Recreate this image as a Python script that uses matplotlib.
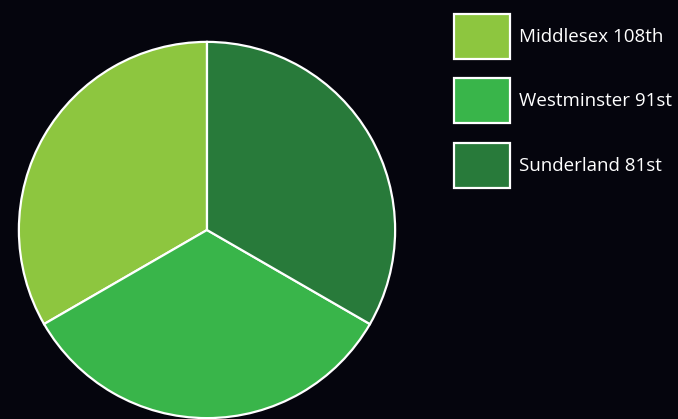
import matplotlib
matplotlib.use('Agg')
from matplotlib import pyplot as plt
from matplotlib.patches import Patch

labels = ['Middlesex 108th', 'Westminster 91st', 'Sunderland 81st']
values = [1, 1, 1]
colors = ['#8dc63f', '#39b54a', '#287a3a']
bg = '#05050d'

plt.rcParams['font.family'] = ['Open Sans', 'DejaVu Sans']

fig = plt.figure(figsize=(6.78, 4.19), dpi=100, facecolor=bg)
ax = fig.add_axes([17 / 678, -1 / 419, 380 / 678, 380 / 419])
ax.set_facecolor(bg)
ax.pie(values, colors=colors, startangle=90, counterclock=True, radius=1,
       wedgeprops={'edgecolor': 'white', 'linewidth': 1.6})
ax.set_xlim(-1.01, 1.01)
ax.set_ylim(-1.01, 1.01)
ax.set_aspect('auto')
ax.axis('off')

handles = [Patch(facecolor=c, edgecolor='white', linewidth=1.6) for c in colors]
leg = fig.legend(handles, labels, loc='upper left', bbox_to_anchor=(454 / 678, 1 - 14 / 419),
                 frameon=False, fontsize=13.5, labelcolor='white',
                 handlelength=2.99, handleheight=3.315, labelspacing=1.04,
                 handletextpad=0.5, borderpad=0, borderaxespad=0)

fig.savefig('out.png', dpi=100, facecolor=bg)
